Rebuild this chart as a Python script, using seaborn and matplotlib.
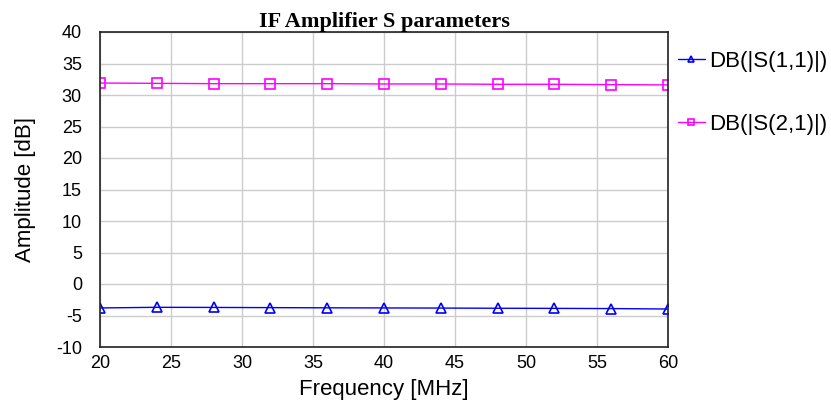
import matplotlib
matplotlib.use("Agg")
import matplotlib.pyplot as plt
from matplotlib.lines import Line2D
import seaborn as sns
import pandas as pd

freq = [20, 24, 28, 32, 36, 40, 44, 48, 52, 56, 60]
s11 = [-3.8, -3.7, -3.72, -3.75, -3.78, -3.8, -3.82, -3.85, -3.87, -3.9, -3.97]
s21 = [31.9, 31.85, 31.8, 31.8, 31.8, 31.75, 31.75, 31.7, 31.7, 31.65, 31.6]
labels = ["DB(|S(1,1)|)", "DB(|S(2,1)|)"]
xticks = [20, 25, 30, 35, 40, 45, 50, 55, 60]
yticks = [-10, -5, 0, 5, 10, 15, 20, 25, 30, 35, 40]
colors = ["#0000ff", "#ff00ff"]
markers = ["^", "s"]

sns.set_style("white")
plt.rcParams["font.family"] = ["Liberation Sans", "DejaVu Sans"]
plt.rcParams["axes.unicode_minus"] = False
plt.rcParams["text.color"] = "black"
plt.rcParams["axes.labelcolor"] = "black"

fig = plt.figure(figsize=(8.31, 4.08), dpi=100)
ax = fig.add_axes([100/831, 1-347/408, 568/831, 315/408])

for vals, lab, c, m in zip([s11, s21], labels, colors, markers):
    df = pd.DataFrame({"f": freq, "v": vals})
    sns.lineplot(data=df, x="f", y="v", ax=ax, color=c, marker=m, markersize=7,
                 markerfacecolor="none", markeredgecolor=c, markeredgewidth=1.2,
                 linewidth=1.0, label=lab, legend=False)

ax.set_xlim(20, 60)
ax.set_ylim(-10, 40)
ax.set_xticks(xticks)
ax.set_yticks(yticks)
ax.grid(True, color="#cccccc", linewidth=1)
for s in ax.spines.values():
    s.set_color("#222222")
    s.set_linewidth(1.2)
ax.tick_params(length=0, labelsize=13, colors="black")
ax.tick_params(axis="x", pad=5.5)
ax.tick_params(axis="y", pad=13)
ax.set_xlabel("Frequency [MHz]", fontsize=16, labelpad=5)
ax.set_ylabel("Amplitude [dB]", fontsize=16, labelpad=14)
ax.set_title("IF Amplifier S parameters", fontsize=16, fontweight="bold",
             family=["Liberation Serif", "DejaVu Serif"], pad=3.6)

handles = [Line2D([], [], color=c, marker=m, markersize=5, markerfacecolor="none",
                  markeredgecolor=c, markeredgewidth=1.2, linewidth=1.0)
           for c, m in zip(colors, markers)]
fig.legend(handles, labels, loc="upper left", bbox_to_anchor=(678/831, 1-51/408),
           frameon=False, fontsize=16, labelspacing=1.9, handlelength=1.2,
           handletextpad=0.2, borderaxespad=0, borderpad=0)

fig.savefig("out.png", dpi=100)
